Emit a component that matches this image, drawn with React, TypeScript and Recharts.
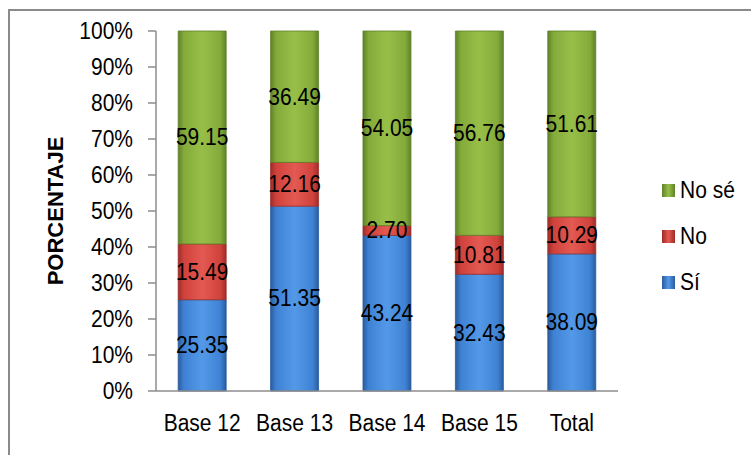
import React from "react";
import { BarChart, Bar, XAxis, YAxis, LabelList } from "recharts";

// categories and percentages
const categories = ["Base 12", "Base 13", "Base 14", "Base 15", "Total"];
const siValues = [25.35, 51.35, 43.24, 32.43, 38.09];
const noValues = [15.49, 12.16, 2.7, 10.81, 10.29];
const noSeValues = [59.15, 36.49, 54.05, 56.76, 51.61];
const yTicks = [0, 0.1, 0.2, 0.3, 0.4, 0.5, 0.6, 0.7, 0.8, 0.9, 1];

const data = categories.map((name, i) => ({
  name,
  si: siValues[i],
  no: noValues[i],
  noSe: noSeValues[i],
}));

const FONT = "'Liberation Sans', Arial, sans-serif";
const STRETCH = 1.12; // the original text is a bit taller than Arial

const series = [
  { key: "si", name: "Sí", values: siValues, dark: "#2a5c9e", mid: "#3f82d4", light: "#5499e8" },
  { key: "no", name: "No", values: noValues, dark: "#9e2c28", mid: "#d0423c", light: "#e35a52" },
  { key: "noSe", name: "No sé", values: noSeValues, dark: "#5f8229", mid: "#84ab3a", light: "#97bf48" },
];

function TallText({ x, y, anchor, children }: any) {
  return (
    <text
      transform={`translate(${x},${y}) scale(1,${STRETCH})`}
      textAnchor={anchor}
      dominantBaseline="central"
      fontSize={21}
      fontFamily={FONT}
      fill="#000"
    >
      {children}
    </text>
  );
}

function makeLabel(values: number[]) {
  return (props: any) => {
    const { x, y, width, height, index } = props;
    return (
      <TallText x={x + width / 2} y={y + height / 2} anchor="middle">
        {values[index].toFixed(2)}
      </TallText>
    );
  };
}

function YTick(props: any) {
  const { x, y, payload } = props;
  return (
    <TallText x={x} y={y} anchor="end">
      {`${Math.round(payload.value * 100)}%`}
    </TallText>
  );
}

function XTick(props: any) {
  const { x, y, payload } = props;
  return (
    <TallText x={x} y={y} anchor="middle">
      {payload.value}
    </TallText>
  );
}

function YLabel(props: any) {
  const vb = props.viewBox;
  const cy = vb.y + vb.height / 2;
  return (
    <text
      transform={`translate(55,${cy}) rotate(-90)`}
      textAnchor="middle"
      dominantBaseline="central"
      fontSize={22}
      fontWeight="bold"
      fontFamily={FONT}
      fill="#000"
    >
      PORCENTAJE
    </text>
  );
}

function LegendBox() {
  const items = [...series].reverse();
  return (
    <div style={{ fontFamily: FONT, fontSize: 21, color: "#000" }}>
      {items.map((s) => (
        <div key={s.key} style={{ display: "flex", alignItems: "center", height: 46 }}>
          <span
            style={{
              display: "inline-block",
              width: 13,
              height: 13,
              marginRight: 5,
              background: `linear-gradient(to right, ${s.dark}, ${s.light} 50%, ${s.dark})`,
            }}
          />
          <span style={{ display: "inline-block", transform: `scaleY(${STRETCH})` }}>{s.name}</span>
        </div>
      ))}
    </div>
  );
}

export default function App() {
  return (
    <div style={{ position: "absolute", left: 0, top: 0, width: 751, height: 455, overflow: "hidden", background: "#fff" }}>
      <div
        style={{
          position: "absolute",
          left: 8,
          top: 9,
          width: 770,
          height: 470,
          border: "2px solid #8a8a8a",
        }}
      />
      <div style={{ position: "absolute", left: 0, top: 0 }}>
        <BarChart
          width={751}
          height={455}
          data={data}
          stackOffset="expand"
          barCategoryGap="24%"
          margin={{ top: 31, right: 133, bottom: 34, left: 0 }}
        >
          <defs>
            {series.map((s) => (
              <linearGradient key={s.key} id={`grad-${s.key}`} x1="0" y1="0" x2="1" y2="0">
                <stop offset="0%" stopColor={s.dark} />
                <stop offset="12%" stopColor={s.mid} />
                <stop offset="50%" stopColor={s.light} />
                <stop offset="88%" stopColor={s.mid} />
                <stop offset="100%" stopColor={s.dark} />
              </linearGradient>
            ))}
          </defs>
          <XAxis
            dataKey="name"
            tickLine={false}
            axisLine={{ stroke: "#8c8c8c", strokeWidth: 1.5 }}
            tick={<XTick />}
            tickSize={0}
            tickMargin={32}
            interval={0}
          />
          <YAxis
            width={156}
            domain={[0, 1]}
            ticks={yTicks}
            tick={<YTick />}
            axisLine={{ stroke: "#8c8c8c", strokeWidth: 1.5 }}
            tickLine={{ stroke: "#8c8c8c", strokeWidth: 1.5 }}
            tickSize={8}
            tickMargin={15}
            label={<YLabel />}
          />
          {series.map((s) => (
            <Bar
              key={s.key}
              dataKey={s.key}
              name={s.name}
              stackId="a"
              fill={`url(#grad-${s.key})`}
              stroke={s.dark}
              strokeWidth={0.8}
              isAnimationActive={false}
            >
              <LabelList content={makeLabel(s.values)} />
            </Bar>
          ))}
        </BarChart>
      </div>
      <div style={{ position: "absolute", left: 662, top: 167, width: 90 }}>
        <LegendBox />
      </div>
    </div>
  );
}
